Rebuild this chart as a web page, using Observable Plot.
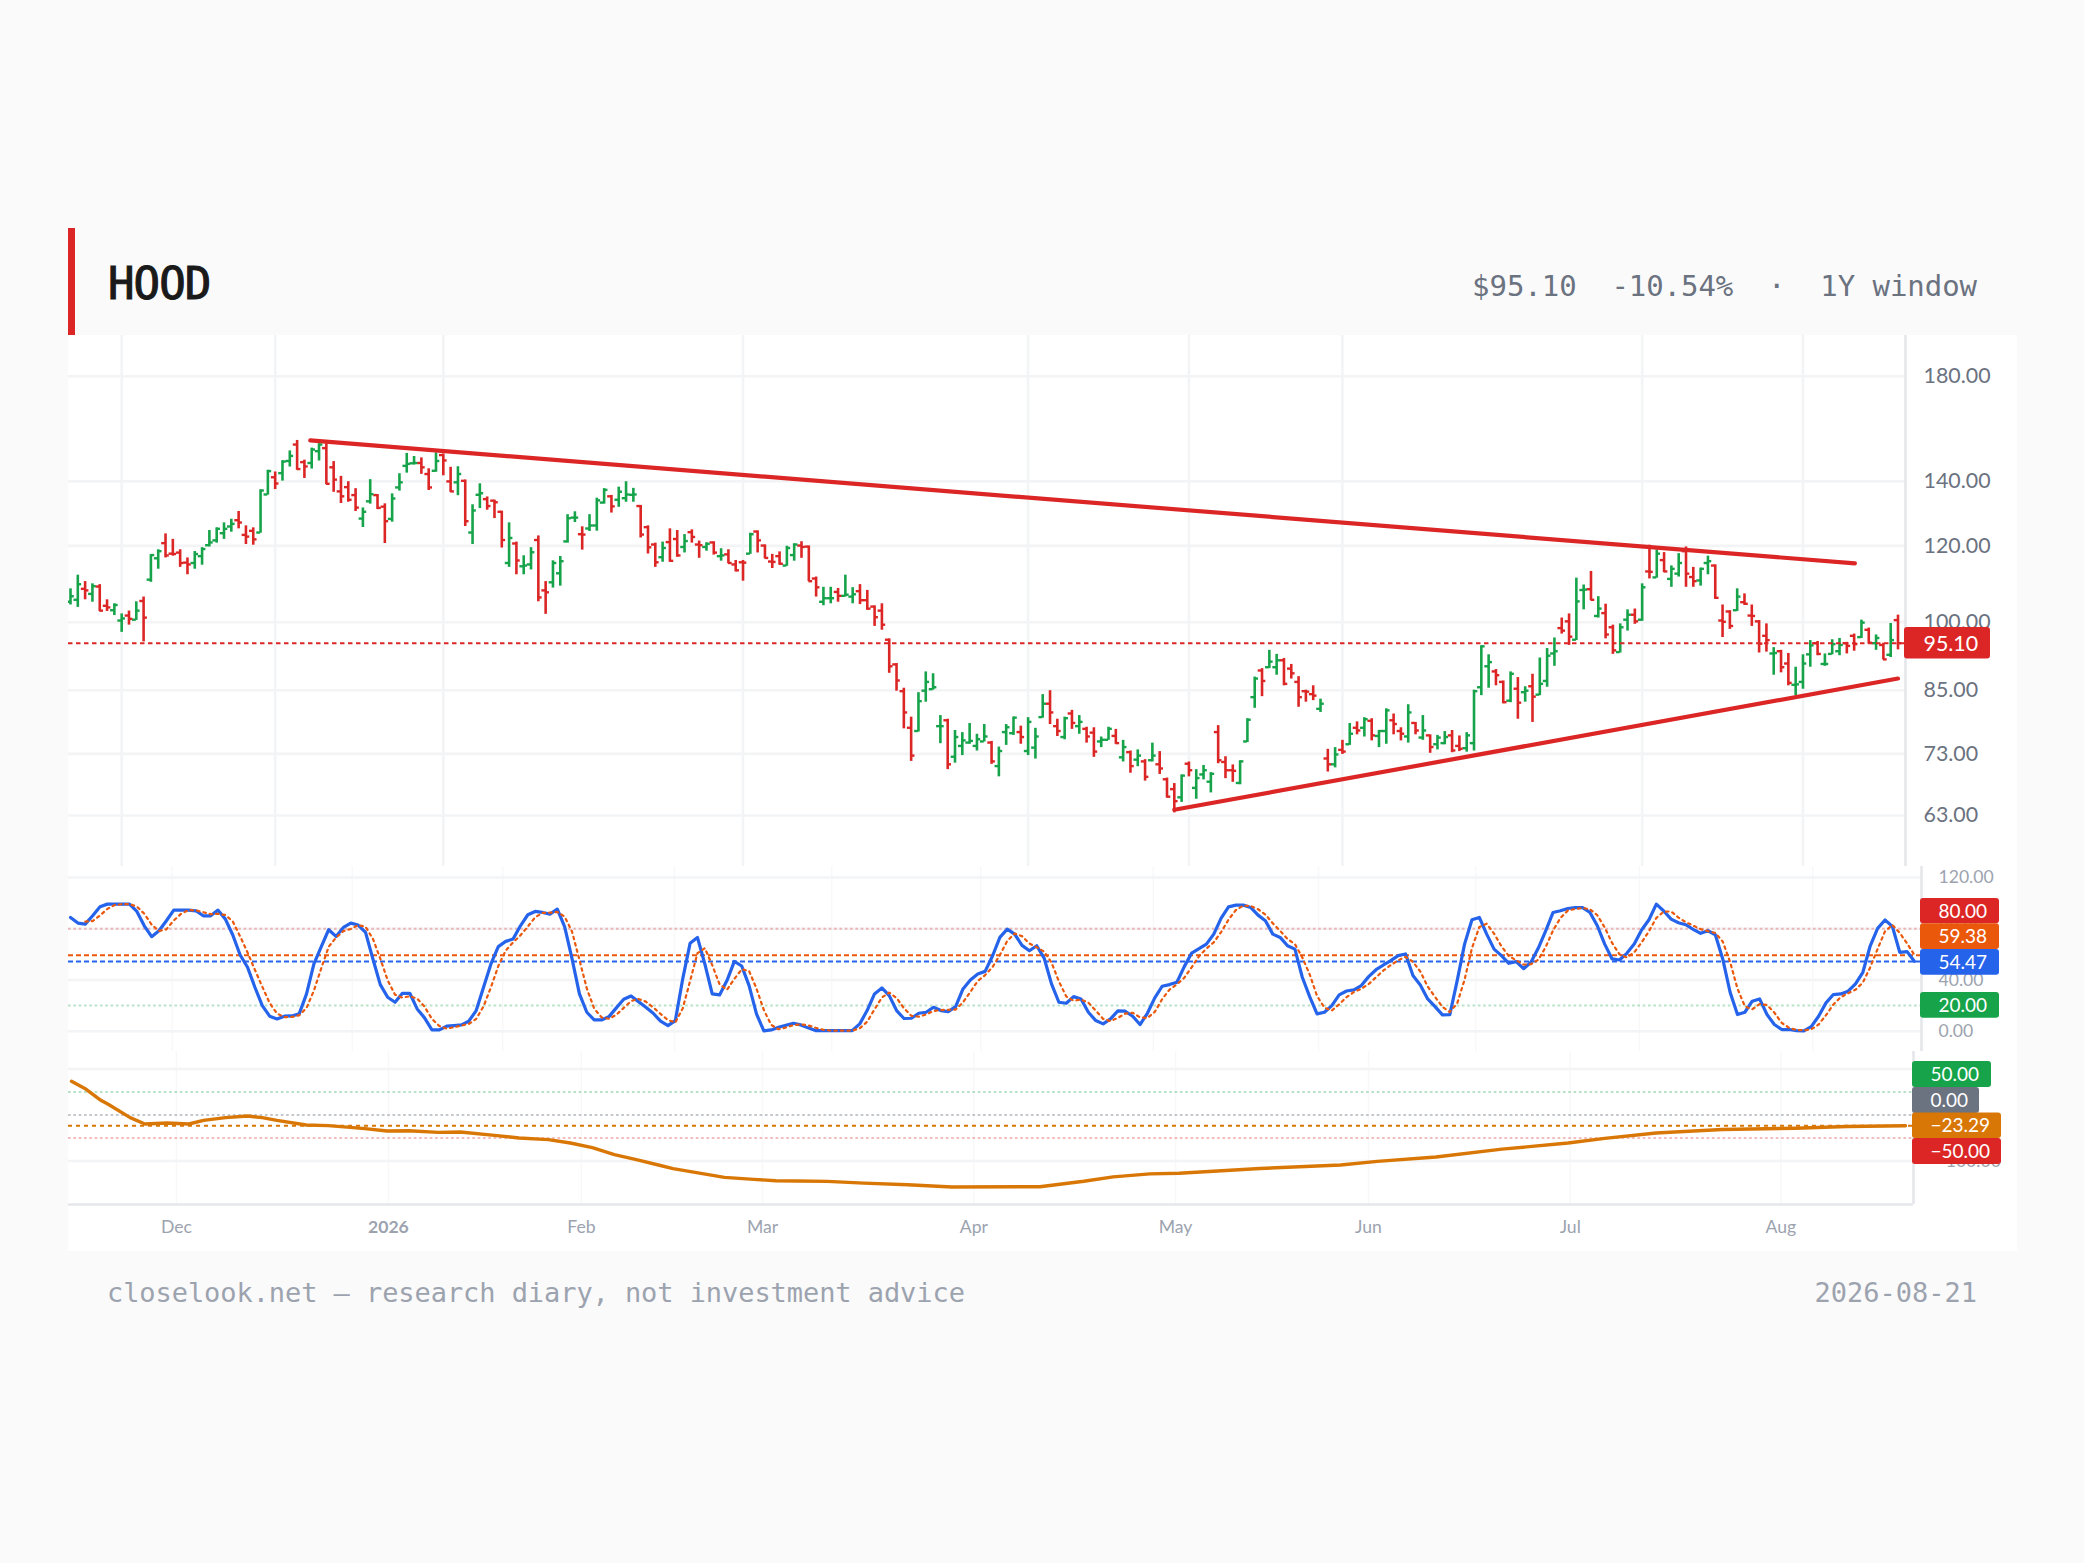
<!DOCTYPE html>
<html>
<head>
<meta charset="utf-8">
<script src="https://cdn.jsdelivr.net/npm/d3@7"></script>
<script src="https://cdn.jsdelivr.net/npm/@observablehq/plot@0.6"></script>
<style>
  html,body{margin:0;padding:0;background:#fafafa;}
  body{width:2084px;height:1563px;position:relative;overflow:hidden;}
  #bar{position:absolute;left:68px;top:228px;width:7px;height:107px;background:#dc2626;}
  #title{position:absolute;left:108px;top:255px;font:400 44px/58px "DejaVu Sans Mono",monospace;-webkit-text-stroke:1.1px #1a1a1a;letter-spacing:-0.9px;color:#1a1a1a;}
  #meta{position:absolute;right:107px;top:267px;font:400 29px/38px "DejaVu Sans Mono",monospace;color:#6b7280;white-space:pre;letter-spacing:-0.05px;}
  #chart{position:absolute;left:68px;top:335px;width:1949px;height:916px;background:#fff;}
  #chart svg{display:block;}
  #foot{position:absolute;left:107px;top:1274px;font:400 27px/38px "DejaVu Sans Mono",monospace;letter-spacing:-0.07px;color:#9ca3af;white-space:pre;}
  #date{position:absolute;right:107px;top:1274px;font:400 27px/38px "DejaVu Sans Mono",monospace;color:#9ca3af;}
</style>
</head>
<body>
<div id="bar"></div>
<div id="title">HOOD</div>
<div id="meta">$95.10  -10.54%  ·  1Y window</div>
<div id="chart"></div>
<div id="foot">closelook.net — research diary, not investment advice</div>
<div id="date">2026-08-21</div>
<script>
// ---- price bars ----
const opens=[105.0,105.5,108.3,107.0,108.9,104.0,102.9,100.4,101.6,100.6,
105.2,110.7,116.5,120.8,117.8,118.1,115.3,115.2,117.1,120.2,
121.6,123.7,125.7,127.6,123.2,124.4,123.9,135.7,141.4,142.8,
147.0,152.9,146.6,146.3,150.5,151.6,144.8,136.7,138.1,135.5,
128.1,133.5,135.5,131.8,128.0,138.0,145.3,146.2,146.3,142.5,
143.6,149.1,140.0,139.7,140.2,123.9,135.6,134.2,133.7,130.2,
115.2,120.7,114.3,114.8,121.7,107.9,110.0,112.4,121.3,128.4,
123.4,125.1,126.0,133.1,135.1,134.0,134.5,135.6,132.0,125.5,
120.4,116.8,121.1,122.0,119.7,124.0,120.4,119.7,121.0,117.1,
117.6,114.8,115.4,117.8,124.2,120.1,115.6,117.1,114.5,117.4,
120.1,119.8,111.0,105.0,105.9,107.5,106.5,106.3,107.7,105.4,
103.8,102.8,95.9,90.4,84.8,77.7,77.1,84.9,85.2,78.0,
79.1,72.5,74.4,75.0,74.4,75.2,75.0,70.9,76.9,76.7,
76.9,73.5,74.1,79.7,82.3,78.0,76.0,80.4,78.0,77.5,
76.8,75.2,75.5,76.2,72.4,73.3,72.0,71.7,71.9,71.2,
68.7,67.1,65.8,71.3,67.3,69.5,68.3,76.9,71.6,70.2,
68.1,75.2,83.6,89.1,89.8,89.8,91.3,89.5,86.7,84.8,
84.2,81.3,72.2,71.2,73.7,74.7,77.7,77.7,79.0,76.2,
77.1,79.1,77.1,76.1,78.6,75.9,76.3,74.7,74.9,76.3,
74.4,74.0,74.9,85.6,90.0,88.9,86.7,82.9,85.3,84.6,
85.8,84.1,86.9,92.8,98.6,100.2,95.9,108.0,108.2,101.5,
102.2,98.8,93.1,100.6,101.8,100.6,112.9,111.3,116.0,110.9,
112.3,118.5,111.4,110.5,115.2,114.5,100.4,102.6,102.9,104.9,
101.6,100.2,96.8,92.8,93.3,90.6,86.1,86.7,92.6,95.1,
90.5,92.7,93.3,95.1,96.8,96.5,98.2,95.1,94.7,92.5,100.5];
const highs=[108.3,111.9,110.2,109.6,109.4,105.5,104.5,102.0,102.7,105.0,
106.2,117.5,118.9,123.5,121.9,118.9,116.6,118.4,119.5,124.5,
125.3,126.8,127.9,130.3,125.9,125.3,137.2,143.8,143.2,147.1,
150.6,154.4,147.3,151.6,153.2,153.2,146.8,141.7,139.9,137.6,
131.4,140.6,135.7,132.7,135.9,142.6,149.7,148.6,148.1,144.3,
149.9,149.5,144.8,145.0,140.5,132.4,139.2,134.9,133.9,130.4,
126.8,121.1,117.2,119.5,122.9,110.2,115.8,117.0,129.3,130.2,
125.6,129.3,134.5,137.6,135.4,138.1,139.9,137.7,132.2,125.9,
120.8,121.1,125.0,124.5,123.3,124.7,121.4,120.9,121.2,119.2,
118.9,115.9,115.9,123.7,124.4,120.3,117.6,118.3,119.9,120.6,
121.2,120.0,111.4,108.7,108.7,108.4,111.9,108.6,109.4,107.9,
104.0,104.5,96.1,90.6,85.4,79.7,84.5,88.8,88.4,80.0,
79.3,77.2,76.8,78.5,76.5,78.3,75.2,74.2,78.3,79.7,
78.0,79.6,77.6,84.1,84.9,79.3,79.7,81.0,80.0,77.8,
77.7,76.0,77.8,77.4,75.4,73.5,73.7,72.0,74.9,73.4,
68.9,68.0,69.4,71.6,70.3,71.0,69.8,78.1,72.5,71.1,
71.8,79.4,87.7,89.5,93.5,92.6,91.7,90.4,87.8,85.0,
85.9,83.2,73.8,74.1,75.4,78.5,78.8,79.6,79.4,77.2,
81.3,80.3,77.7,82.1,78.7,80.0,76.4,76.3,77.0,77.2,
76.2,76.8,85.0,94.5,92.5,89.3,86.9,88.8,87.6,85.7,
88.3,91.8,93.9,96.3,101.0,102.0,111.1,109.3,112.9,106.3,
104.4,99.3,99.6,103.0,103.2,109.6,120.2,118.9,118.1,114.4,
117.8,119.7,114.0,113.8,117.1,114.7,104.2,102.8,108.3,107.0,
104.2,100.4,99.6,94.1,93.5,92.8,89.8,92.5,95.7,95.5,
92.7,95.9,96.2,95.3,97.2,100.5,98.6,97.0,95.1,99.7,101.7];
const lows=[104.2,103.6,105.5,104.9,102.6,102.6,101.6,97.6,99.3,100.4,
95.4,110.0,113.5,116.6,117.1,114.0,112.0,113.5,114.6,119.7,
120.8,121.9,124.0,125.0,120.4,120.2,123.7,135.5,137.3,140.1,
144.9,143.8,141.0,144.2,147.0,139.0,136.4,132.8,133.2,130.3,
125.4,132.6,130.9,120.7,127.0,136.8,142.8,145.6,142.4,137.0,
143.1,141.9,136.4,135.3,125.7,120.4,131.2,130.7,128.1,119.4,
114.0,112.0,112.0,113.3,105.0,101.9,108.5,109.0,120.8,126.9,
118.8,124.2,124.3,132.6,129.8,131.6,133.2,133.2,122.3,117.7,
114.0,115.4,115.4,116.8,118.0,120.8,116.5,118.5,117.4,115.7,
115.0,112.8,110.3,117.6,118.0,116.4,113.7,114.6,114.3,115.7,
116.5,110.2,106.2,104.0,104.5,104.9,106.2,104.5,104.3,102.9,
99.0,98.1,88.5,84.8,77.5,71.7,76.9,82.6,85.0,74.8,
70.3,71.4,72.7,74.7,73.5,75.1,71.2,69.1,74.5,76.3,
74.7,72.7,72.1,79.5,78.3,76.1,75.5,77.4,76.5,74.9,
72.4,74.1,75.4,74.7,71.6,69.7,70.8,68.4,71.6,69.5,
65.7,63.4,65.0,69.1,65.5,68.6,66.5,71.3,68.8,68.2,
67.8,75.0,81.4,83.7,89.5,88.1,85.9,87.3,81.6,82.6,
82.9,80.6,69.9,70.6,72.9,74.5,76.4,76.0,75.3,74.1,
74.7,76.4,75.3,74.9,76.4,75.4,73.1,73.7,74.6,73.2,
73.4,73.3,73.5,83.9,85.4,85.9,82.3,82.5,79.3,82.6,
78.7,83.9,85.6,90.0,97.2,94.6,95.7,103.0,105.3,101.0,
96.1,92.6,92.9,97.9,99.5,100.2,110.9,111.1,112.6,108.7,
111.4,108.7,108.7,109.0,112.0,105.6,96.4,98.3,102.6,104.1,
99.0,92.9,93.1,88.1,88.6,85.9,83.9,85.2,89.8,92.3,
90.0,92.5,92.3,92.7,93.3,96.2,94.9,93.5,91.4,91.9,93.6];
const closes=[106.4,109.5,107.9,109.0,102.8,103.6,104.2,100.9,100.8,102.8,
101.1,117.4,118.5,117.3,117.7,115.2,114.8,117.7,119.1,121.0,
125.0,125.0,126.5,126.9,122.7,121.9,137.0,143.5,139.3,146.8,
148.8,144.2,145.1,151.1,152.9,139.2,140.6,135.1,134.0,131.5,
130.2,135.8,131.4,127.3,134.4,139.7,146.0,146.3,144.8,138.0,
147.0,147.2,136.7,142.5,127.3,130.6,136.1,132.0,133.2,121.7,
122.3,115.9,114.5,118.2,106.1,107.4,115.2,115.7,128.2,128.4,
123.3,126.0,133.8,137.2,131.9,136.6,135.7,135.7,123.3,119.6,
115.4,119.4,115.8,117.3,121.4,122.6,120.2,120.6,118.1,117.3,
115.2,113.2,115.3,123.4,121.6,116.6,115.5,115.0,119.4,120.4,
119.7,110.3,108.7,105.9,105.9,106.5,106.8,106.9,105.4,103.3,
101.2,99.4,90.0,87.0,80.6,72.7,82.8,86.7,85.6,78.0,
71.2,76.0,75.4,75.3,75.6,76.1,71.7,73.5,77.8,79.6,
76.0,78.8,76.1,82.3,80.6,77.1,79.5,78.6,78.8,76.1,
73.4,75.5,77.5,74.9,74.2,70.9,72.7,69.1,72.7,70.5,
65.9,65.2,69.3,70.2,68.9,70.2,69.6,71.9,70.2,70.1,
71.7,79.2,87.4,86.9,91.0,91.3,86.3,88.5,83.6,84.7,
83.9,82.3,71.2,72.9,73.4,76.6,77.2,79.3,76.3,77.1,
81.0,78.4,76.6,80.6,77.2,77.2,74.2,75.9,76.0,73.6,
73.9,76.3,84.8,94.4,90.9,88.1,82.6,88.4,82.5,84.9,
83.7,86.3,92.3,93.3,98.0,96.6,105.1,108.1,105.5,103.3,
97.1,93.5,98.8,101.8,100.2,108.7,112.8,117.8,112.9,113.6,
115.2,112.3,110.3,113.6,115.7,106.0,100.1,99.1,106.3,104.5,
101.5,95.0,95.8,92.9,89.8,86.5,86.2,90.6,94.6,92.7,
90.5,94.9,94.7,94.5,94.9,99.9,95.2,96.3,91.5,95.8,95.1];
const lastClose=95.10;
const priceTicks=[63,73,85,100,120,140,180];
const priceGridBars=[7,28,51,92,131,153,174,215,237];
const trendUpperBars=[32.8,244.1], trendUpperPrices=[154.4,115.1];
const trendLowerBars=[151,250], trendLowerPrices=[63.87,87.4];

// ---- stochastic pane ----
const stochK=[88.8,84.4,83.6,90.1,97.1,99.2,99.2,99.2,99.2,93.5,
82.3,73.8,78.4,86.2,94.5,94.5,94.5,94.0,90.1,90.1,
94.5,87.5,75.1,59.5,49.9,34.3,20.0,11.7,9.6,11.7,
11.9,13.5,29.1,52.5,66.0,79.2,74.0,81.0,84.4,82.9,
77.1,56.4,36.4,26.5,22.6,29.6,29.6,17.4,10.4,1.0,
1.0,3.9,4.4,4.9,7.8,16.1,34.3,52.5,66.0,70.1,
71.9,82.3,90.9,93.5,92.7,91.4,95.3,81.5,56.4,29.1,
14.8,8.8,8.8,11.4,18.2,24.9,27.5,23.1,18.7,14.0,
7.8,4.4,8.3,40.8,68.6,73.2,52.5,29.1,28.3,39.5,
54.5,50.9,35.6,13.5,0.3,1.0,3.1,4.7,6.2,4.9,
2.6,0.5,0.5,0.5,0.5,0.5,0.5,5.7,16.1,29.1,
33.8,27.8,16.1,9.9,10.1,14.0,14.8,18.7,16.1,15.3,
19.2,33.0,40.0,44.7,46.7,58.7,73.2,79.7,75.8,67.0,
62.8,66.7,57.1,36.9,22.6,21.8,27.0,25.2,14.8,8.3,
5.7,9.6,15.8,15.6,11.7,5.2,14.0,26.0,35.1,36.4,
38.2,50.4,61.0,64.4,68.0,75.8,88.3,97.1,98.4,98.4,
96.6,90.6,86.2,75.8,73.2,66.7,64.1,42.1,27.0,13.5,
14.8,20.0,28.3,31.4,32.2,35.6,42.6,48.0,51.7,55.1,
59.0,60.3,43.4,36.1,25.2,19.2,12.7,13.0,39.5,68.0,
87.0,88.8,75.8,64.1,59.0,53.0,54.3,48.8,53.8,64.9,
78.4,92.7,94.0,95.8,96.4,96.4,92.7,82.3,68.0,56.4,
55.6,60.8,68.0,79.0,87.0,99.2,93.8,87.5,84.7,83.1,
79.5,76.4,78.4,75.3,56.4,30.4,13.0,14.8,23.4,25.2,
13.0,5.2,1.3,1.3,0.5,0.3,3.6,11.7,22.1,28.6,
29.1,31.2,36.9,46.0,66.7,80.3,86.8,81.8,61.6,62.1,54.47];
const stochD=[null,null,85.6,86.0,90.3,95.5,98.5,99.2,99.2,97.3,
91.7,83.2,78.2,79.5,86.4,91.7,94.5,94.3,92.9,91.4,
91.6,90.7,85.7,74.0,61.5,47.9,34.7,22.0,13.8,11.0,
11.1,12.4,18.2,31.7,49.2,65.9,73.1,78.1,79.8,82.8,
81.5,72.1,56.6,39.8,28.5,26.2,27.3,25.5,19.1,9.6,
4.1,2.0,3.1,4.4,5.7,9.6,19.4,34.3,50.9,62.9,
69.3,74.8,81.7,88.9,92.4,92.5,93.1,89.4,77.7,55.7,
33.4,17.6,10.8,9.7,12.8,18.2,23.5,25.2,23.1,18.6,
13.5,8.7,6.8,17.8,39.2,60.9,64.8,51.6,36.6,32.3,
40.8,48.3,47.0,33.3,16.5,4.9,1.5,2.9,4.7,5.3,
4.6,2.7,1.2,0.5,0.5,0.5,0.5,2.2,7.4,17.0,
26.3,30.2,25.9,17.9,12.0,11.3,13.0,15.8,16.5,16.7,
16.9,22.5,30.7,39.2,43.8,50.0,59.5,70.5,76.2,74.2,
68.5,65.5,62.2,53.6,38.9,27.1,23.8,24.7,22.3,16.1,
9.6,7.9,10.4,13.7,14.4,10.8,10.3,15.1,25.0,32.5,
36.6,41.7,49.9,58.6,64.5,69.4,77.4,87.1,94.6,98.0,
97.8,95.2,91.1,84.2,78.4,71.9,68.0,57.6,44.4,27.5,
18.4,16.1,21.0,26.6,30.6,33.1,36.8,42.1,47.4,51.6,
55.3,58.1,54.2,46.6,34.9,26.8,19.0,15.0,21.7,40.2,
64.8,81.3,83.9,76.2,66.3,58.7,55.4,52.0,52.3,55.8,
65.7,78.7,88.4,94.2,95.4,96.2,95.2,90.5,81.0,68.9,
60.0,57.6,61.5,69.3,78.0,88.4,93.3,93.5,88.7,85.1,
82.4,79.7,78.1,76.7,70.0,54.0,33.3,19.4,17.1,21.1,
20.5,14.5,6.5,2.6,1.0,0.7,1.5,5.2,12.5,20.8,
26.6,29.6,32.4,38.0,49.9,64.3,77.9,83.0,76.7,68.5,59.38];
const stochTicks=[0,40,80,120];
const stochGridBars=[13.8,38.2,58.6,81.9,103.2,123.4,146.8,169.2,190.5,212.7,236.2];

// ---- momentum pane ----
const momBars=[0,2,4,5,8,10,13,16,18,21,24,26,28,32,35,38,40,43,46,50,53,58,61,65,68,71,74,77,80,82,85,89,93,96,99,103,108,114,120,132,138,142,147,151,162,173,178,186,195,204,209,216,225,235,242,250];
const momValues=[73.2,55.8,31.9,23.2,-5.8,-19.6,-17.4,-19.6,-11.6,-5.8,-2.2,-5.8,-11.6,-21.7,-23.2,-26.8,-29.7,-34.8,-34.1,-37.7,-37.0,-44.9,-50.0,-53.6,-60.9,-71.0,-86.2,-97.1,-108.7,-116.7,-124.6,-135.5,-139.9,-142.8,-143.5,-144.2,-148.0,-151.5,-156.6,-155.9,-144.1,-134.6,-127.9,-126.5,-116.2,-108.8,-100.7,-91.2,-74.3,-61.0,-50.7,-39.0,-31.6,-28.7,-25.0,-23.29];
const momTicks=[-100,100];
const monthBars=[14.3,69.5,94.2,123,150.5,176.8,204.3,233];
const monthNames=["Dec","Feb","Mar","Apr","May","Jun","Jul","Aug"];
const yearBars=[43.2];
const yearNames=["2026"];

// ---- palette and layout ----
const RED="#dc2626",GREEN="#16a34a",BLUE="#2563eb",ORANGE="#ea580c",AMBER="#d97706",SLATE="#6b7280";
const GRID="#f3f4f6",GRIDSOFT="#f8f8f9",AXIS="#e5e7eb",FONT="Lato";
const W=1949, ORIGIN=68;
const fmt=d3.format(".2f");
const bars=d3.range(opens.length).map(i=>({i,o:opens[i],h:highs[i],l:lows[i],c:closes[i]}));
const color=d=>d.c>=d.o?GREEN:RED;

const pane=(x0,step,right)=>({domain:[-x0/step,(right-x0)/step],at:px=>(px-ORIGIN-x0)/step});
const P1=pane(2,7.31,1837), P2=pane(2,7.376,1853), P3=pane(3,7.336,1845);
const price=px=>100*Math.exp((621.7-px)/418.4);
const stoch=px=>(1030.7-px)/1.281;
const mom=px=>(1114.5-px)/0.46;

function boxes(list,p,yOf,size){
  return [
    Plot.rect(list,{x1:d=>p.at(d.left),x2:d=>p.at(d.right),y1:d=>yOf(d.top),y2:d=>yOf(d.bottom),fill:d=>d.fill,rx:3}),
    Plot.text(list,{x:d=>p.at(d.tx),y:d=>yOf((d.top+d.bottom)/2),text:d=>d.label,fill:"#fff",fontSize:size,textAnchor:"start",dy:0.5})
  ];
}

const main=Plot.plot({
  width:W,height:531,marginLeft:0,marginRight:112,marginTop:0,marginBottom:0,
  style:{background:"#fff",fontFamily:FONT},
  x:{domain:P1.domain,axis:null},
  y:{type:"log",domain:[price(866),price(335)],axis:null},
  marks:[
    Plot.ruleX(priceGridBars,{stroke:GRID,strokeWidth:2.6}),
    Plot.ruleY(priceTicks,{stroke:GRID,strokeWidth:2.6}),
    Plot.axisY({anchor:"right",ticks:priceTicks,tickFormat:fmt,tickSize:0,tickPadding:18,label:null,fontSize:21.4,color:SLATE}),
    Plot.ruleX(bars,{x:"i",y1:"l",y2:"h",stroke:color,strokeWidth:2.6}),
    Plot.ruleY(bars,{y:"o",x1:d=>d.i-0.52,x2:d=>d.i,stroke:color,strokeWidth:2.4}),
    Plot.ruleY(bars,{y:"c",x1:d=>d.i,x2:d=>d.i+0.52,stroke:color,strokeWidth:2.4}),
    Plot.ruleY([lastClose],{stroke:RED,strokeWidth:2,strokeDasharray:"4.5,3.5"}),
    Plot.line(trendUpperBars.map((b,k)=>({b,p:trendUpperPrices[k]})),{x:"b",y:"p",stroke:RED,strokeWidth:4.2,strokeLinecap:"round"}),
    Plot.line(trendLowerBars.map((b,k)=>({b,p:trendLowerPrices[k]})),{x:"b",y:"p",stroke:RED,strokeWidth:4.2,strokeLinecap:"round"}),
    Plot.ruleX([P1.domain[1]],{stroke:AXIS,strokeWidth:2.6}),
    ...boxes([{label:fmt(lastClose),fill:RED,left:1904,right:1990,top:627,bottom:658.6,tx:1923}],P1,price,21.4)
  ]
});

const sub=Plot.plot({
  width:W,height:185,marginLeft:0,marginRight:96,marginTop:0,marginBottom:0,
  style:{background:"#fff",fontFamily:FONT},
  x:{domain:P2.domain,axis:null},
  y:{domain:[stoch(1051),stoch(866)],axis:null},
  marks:[
    Plot.ruleX(stochGridBars,{stroke:GRIDSOFT,strokeWidth:1.5}),
    Plot.ruleY(stochTicks,{stroke:GRID,strokeWidth:2.6}),
    Plot.axisY({anchor:"right",ticks:stochTicks,tickFormat:fmt,tickSize:0,tickPadding:17,label:null,fontSize:17.6,color:"#9ca3af"}),
    Plot.ruleY([80],{stroke:RED,strokeOpacity:0.3,strokeWidth:2,strokeDasharray:"2.66,2.66"}),
    Plot.ruleY([20],{stroke:GREEN,strokeOpacity:0.3,strokeWidth:2,strokeDasharray:"2.66,2.66"}),
    Plot.ruleY([stochD[stochD.length-1]],{stroke:ORANGE,strokeWidth:2,strokeDasharray:"5,3"}),
    Plot.ruleY([stochK[stochK.length-1]],{stroke:BLUE,strokeWidth:2,strokeDasharray:"5,3"}),
    Plot.line(stochK,{x:(d,i)=>i,y:d=>d,stroke:BLUE,strokeWidth:3.2}),
    Plot.line(stochD,{x:(d,i)=>i,y:d=>d,stroke:ORANGE,strokeWidth:2.2,strokeDasharray:"2.5,4"}),
    Plot.ruleX([P2.domain[1]],{stroke:AXIS,strokeWidth:2.6}),
    ...boxes([
      {label:"80.00",fill:RED,left:1920,right:1999,top:898,bottom:923.3,tx:1938},
      {label:fmt(stochD[stochD.length-1]),fill:ORANGE,left:1920,right:1999,top:923.3,bottom:949,tx:1938},
      {label:fmt(stochK[stochK.length-1]),fill:BLUE,left:1920,right:1999,top:949,bottom:974.7,tx:1938},
      {label:"20.00",fill:GREEN,left:1920,right:1999,top:992,bottom:1017.7,tx:1938}
    ],P2,stoch,19)
  ]
});

const low=Plot.plot({
  width:W,height:200,marginLeft:0,marginRight:104,marginTop:0,marginBottom:47,
  style:{background:"#fff",fontFamily:FONT},
  x:{domain:P3.domain,axis:null},
  y:{domain:[mom(1204),mom(1051)],axis:null},
  marks:[
    Plot.ruleX(monthBars.concat(yearBars),{stroke:GRIDSOFT,strokeWidth:1.5}),
    Plot.ruleY(momTicks,{stroke:GRID,strokeWidth:2.6}),
    Plot.axisY({anchor:"right",ticks:momTicks,tickFormat:fmt,tickSize:0,tickPadding:22,label:null,fontSize:17.6,color:"#9ca3af"}),
    Plot.axisX({anchor:"bottom",ticks:monthBars,tickFormat:b=>monthNames[monthBars.indexOf(b)],tickSize:0,tickPadding:16,label:null,fontSize:17.6,color:"#9ca3af"}),
    Plot.axisX({anchor:"bottom",ticks:yearBars,tickFormat:b=>yearNames[yearBars.indexOf(b)],tickSize:0,tickPadding:16,label:null,fontSize:17.6,fontWeight:700,color:"#9ca3af"}),
    Plot.ruleY([50],{stroke:GREEN,strokeOpacity:0.3,strokeWidth:2,strokeDasharray:"2.66,2.66"}),
    Plot.ruleY([0],{stroke:SLATE,strokeOpacity:0.4,strokeWidth:2,strokeDasharray:"2.66,2.66"}),
    Plot.ruleY([-50],{stroke:RED,strokeOpacity:0.3,strokeWidth:2,strokeDasharray:"2.66,2.66"}),
    Plot.ruleY([momValues[momValues.length-1]],{stroke:AMBER,strokeWidth:2,strokeDasharray:"4,4"}),
    Plot.line(momBars.map((b,k)=>({b,v:momValues[k]})),{x:"b",y:"v",stroke:AMBER,strokeWidth:3.4}),
    Plot.ruleX([P3.domain[1]],{stroke:AXIS,strokeWidth:2.6}),
    Plot.ruleY([mom(1204)],{stroke:AXIS,strokeWidth:2.6}),
    ...boxes([
      {label:"50.00",fill:GREEN,left:1912,right:1991,top:1061,bottom:1087,tx:1930},
      {label:"0.00",fill:SLATE,left:1912,right:1979,top:1087,bottom:1113,tx:1930},
      {label:fmt(momValues[momValues.length-1]).replace("-","−"),fill:AMBER,left:1912,right:2001,top:1112.5,bottom:1138,tx:1930},
      {label:"−50.00",fill:RED,left:1912,right:2001,top:1138,bottom:1164,tx:1930}
    ],P3,mom,19)
  ]
});
const host=document.getElementById("chart");
host.append(main,sub,low);
</script>
</body>
</html>
